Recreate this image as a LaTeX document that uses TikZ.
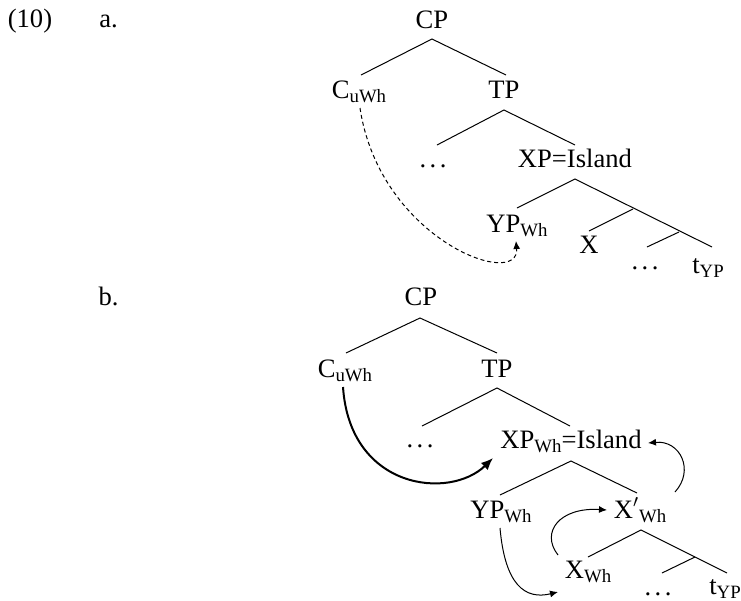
\documentclass[tikz,border=0pt]{standalone}
\usepackage{fontspec}
\setmainfont{Liberation Serif}
\usetikzlibrary{arrows.meta}
\newcommand{\sbs}[1]{\raisebox{-2pt}{\fontsize{9.4}{10}\selectfont #1}}
\newcommand{\tdots}{.\kern0.13em.\kern0.13em.}
\begin{document}
\begin{tikzpicture}[x=0.5pt,y=-0.5pt,
  lab/.style={anchor=base,inner sep=0pt,font=\fontsize{13.3}{16}\selectfont},
  edge/.style={line width=0.5pt},
  mv/.style={line width=0.5pt,-{Latex[length=4pt,width=3.5pt]}},
  mvthick/.style={line width=1pt,-{Latex[length=6pt,width=5pt]}},
  mvdash/.style={line width=0.5pt,dashed,dash pattern=on 2pt off 1.5pt,-{Latex[length=4pt,width=3.5pt]}}]
\useasboundingbox (0,0) rectangle (741,601);

% ---------- (a) ----------
\node[lab] (n10) at (30,27) {(10)};
\node[lab] (la) at (108.5,27) {a.};
\node[lab] (aCP) at (432,28) {CP};
\node[lab] (aC) at (359,98) {C\sbs{uWh}};
\node[lab] (aTP) at (504,98) {TP};
\node[lab] (adots) at (433,167) {\tdots};
\node[lab] (aXP) at (575,167) {XP=Island};
\node[lab] (aYP) at (517,232) {YP\sbs{Wh}};
\node[lab] (aX) at (589,253) {X};
\node[lab] (adots2) at (645,269) {\tdots};
\node[lab] (at) at (708,273) {t\sbs{YP}};

\coordinate (aCPb) at (432,39);
\coordinate (aCt) at (361,75);
\coordinate (aTPt) at (506,75);
\coordinate (aTPb) at (504,110);
\coordinate (adt) at (437,145);
\coordinate (aXPt) at (575,145);
\coordinate (aXPb) at (575,179);
\coordinate (aYPt) at (517,208);
\coordinate (am1) at (633,209);
\coordinate (aXt) at (589,231);
\coordinate (am2) at (679,232);
\coordinate (ad2t) at (647,247);
\coordinate (att) at (712,247);

\draw[edge] (aCt) -- (aCPb) -- (aTPt);
\draw[edge] (adt) -- (aTPb) -- (aXPt);
\draw[edge] (aYPt) -- (aXPb) -- (att);
\draw[edge] (am1) -- (aXt);
\draw[edge] (am2) -- (ad2t);

\coordinate (aCs) at (360,108);
\coordinate (aYPs) at (516,241);
\draw[mvdash] (aCs) .. controls (380,240) and (520,290) .. (aYPs);

% ---------- (b) ----------
\node[lab] (lb) at (108.5,305) {b.};
\node[lab] (bCP) at (421,305) {CP};
\node[lab] (bC) at (345,377) {C\sbs{uWh}};
\node[lab] (bTP) at (497,377) {TP};
\node[lab] (bdots) at (420,447) {\tdots};
\node[lab] (bXP) at (571,448) {XP\sbs{Wh}=Island};
\node[lab] (bYP) at (501,518) {YP\sbs{Wh}};
\node[lab] (bXb) at (640,518) {X$'$\sbs{Wh}};
\node[lab] (bX) at (588,578) {X\sbs{Wh}};
\node[lab] (bdots2) at (658,595) {\tdots};
\node[lab] (bt) at (725,594) {t\sbs{YP}};

\coordinate (bCPb) at (420,318);
\coordinate (bCt) at (346,353);
\coordinate (bTPt) at (497,353);
\coordinate (bTPb) at (497,388);
\coordinate (bdt) at (422,426);
\coordinate (bXPt) at (570,426);
\coordinate (bXPb) at (571,461);
\coordinate (bYPt) at (500,495);
\coordinate (bXbt) at (637,493);
\coordinate (bXbb) at (641,530);
\coordinate (bXt) at (588,557);
\coordinate (bm) at (695,557);
\coordinate (bd2t) at (662,573);
\coordinate (btt) at (727,573);

\draw[edge] (bCt) -- (bCPb) -- (bTPt);
\draw[edge] (bdt) -- (bTPb) -- (bXPt);
\draw[edge] (bYPt) -- (bXPb) -- (bXbt);
\draw[edge] (bXt) -- (bXbb) -- (btt);
\draw[edge] (bm) -- (bd2t);

\coordinate (bCs) at (343,387);
\coordinate (bXPin) at (493,458);
\draw[mvthick] (bCs) .. controls (350,490) and (450,500) .. (bXPin);

\coordinate (bXbs) at (675,492);
\coordinate (bXPr) at (648,443);
\draw[mv] (bXbs) .. controls (695,470) and (680,440) .. (bXPr);

\coordinate (bYPs) at (500,528);
\coordinate (bXin) at (558,592);
\draw[mv] (bYPs) .. controls (505,585) and (525,600) .. (bXin);

\coordinate (bXs) at (558,555);
\coordinate (bXbl) at (607,510);
\draw[mv] (bXs) .. controls (540,532) and (560,507) .. (bXbl);
\end{tikzpicture}
\end{document}
